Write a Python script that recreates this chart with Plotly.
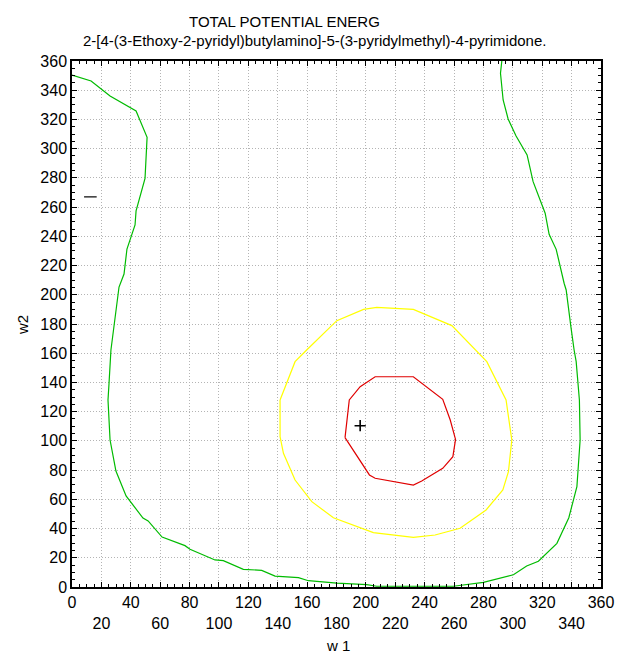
import plotly.graph_objects as go

# ---- data ----
green_w1 = [0, 13, 25.9, 43.6, 51.1, 49.7, 43.6, 42.9, 37.4, 35.4, 32, 29.3, 28.6, 26.5, 25.2, 24.5,
            25.9, 29.9, 36.8, 48.3, 51.8, 61.3, 76.9, 80.3, 97.3, 103, 116.6, 129.1, 138.2, 154.1,
            160.9, 180.2, 200.6, 207.4, 259.6, 280, 300.4, 309.4, 317.4, 330, 338.1, 343.6, 345.8,
            345.3, 343.1, 341.7, 339.5, 336.3, 334.9, 329.5, 324.7, 322, 313.8, 309.7, 302.2, 296.8,
            293.4, 291.6, 292.5]
green_w2 = [350.4, 346.3, 336, 325.8, 307.8, 279.7, 257.4, 247.8, 231.3, 214.2, 205.3, 182.7, 179.3,
            162.2, 139.4, 128, 100.6, 79.4, 62.3, 47.2, 45.2, 34.2, 28.3, 25.8, 18.5, 18, 12.1, 11.4,
            7.5, 6.4, 4.3, 2.7, 1.6, 0.5, 0.5, 3.2, 8.4, 14.4, 17.6, 29.9, 47.4, 68.7, 100.6, 128,
            154.2, 162.2, 178.2, 203.3, 207.9, 231.1, 241.4, 255.8, 277.4, 295.7, 308.7, 320.3,
            333.3, 351.6, 360]

yellow_w1 = [141.6, 151.8, 159.7, 180.2, 198.4, 207.4, 232.3, 258.5, 282.3, 295.4, 299.3, 297, 293.2,
             281.8, 264.1, 247.1, 232.3, 205.1, 177.9, 163.2, 151.8, 143.9, 141.6, 141.6]
yellow_w2 = [128, 154.2, 162.2, 182.3, 190, 191.4, 190, 178.9, 154.2, 128, 100.6, 78.9, 66.4, 52.7,
             40.2, 35.6, 34, 37.2, 47.4, 58.4, 73.2, 91.5, 102.9, 128]

red_w1 = [185.8, 188.7, 196.1, 206.3, 232.3, 252.3, 257.4, 261, 259.2, 252.3, 238, 232.3, 206.3,
          202.4, 185.8]
red_w2 = [102.2, 128, 137.1, 143.9, 143.9, 128.5, 114.3, 101, 89.2, 81.2, 72.5, 69.8, 74.4, 76.7,
          102.2]

plus_w1, plus_w2 = [196.1], [110.4]
dash_w1, dash_w2 = [12.5], [267]

tick_vals = list(range(0, 361, 20))
x_tick_text = [str(v) if (v // 20) % 2 == 0 else "<br>" + str(v) for v in tick_vals]

title_text = "TOTAL POTENTIAL ENERG"
subtitle_text = "2-[4-(3-Ethoxy-2-pyridyl)butylamino]-5-(3-pyridylmethyl)-4-pyrimidone."
x_title = "w 1"
y_title = "w2"

FONT = "Liberation Sans, Arial, sans-serif"

fig = go.Figure()
fig.add_trace(go.Scatter(x=green_w1, y=green_w2, mode="lines",
                         line=dict(color="#00bb00", width=1.2), hoverinfo="skip"))
fig.add_trace(go.Scatter(x=yellow_w1, y=yellow_w2, mode="lines",
                         line=dict(color="#ffff00", width=1.2), hoverinfo="skip"))
fig.add_trace(go.Scatter(x=red_w1, y=red_w2, mode="lines",
                         line=dict(color="#e00000", width=1.2), hoverinfo="skip"))
fig.add_trace(go.Scatter(x=plus_w1, y=plus_w2, mode="markers",
                         marker=dict(symbol="cross-thin", size=8,
                                     line=dict(color="black", width=1.6)), hoverinfo="skip"))
fig.add_trace(go.Scatter(x=dash_w1, y=dash_w2, mode="markers",
                         marker=dict(symbol="line-ew", size=9,
                                     line=dict(color="black", width=1.2)), hoverinfo="skip"))

axis_common = dict(
    range=[0, 360], tickvals=tick_vals, showgrid=True, gridcolor="#b4b4b4", griddash="1px,2px",
    gridwidth=1, zeroline=False, showline=True, linecolor="black", linewidth=1.5, mirror="ticks",
    ticks="inside", ticklen=5, tickcolor="black", tickwidth=1, automargin=False,
    minor=dict(dtick=5, ticks="inside", ticklen=3, tickcolor="black", showgrid=False),
    tickfont=dict(family=FONT, size=16, color="black"),
)

fig.update_layout(
    width=617, height=656,
    margin=dict(l=72, r=16, t=61, b=69),
    paper_bgcolor="white", plot_bgcolor="white",
    showlegend=False,
    font=dict(family=FONT, size=15, color="black"),
    xaxis=dict(axis_common, ticktext=x_tick_text),
    yaxis=dict(axis_common, ticktext=[str(v) for v in tick_vals]),
    annotations=[
        dict(text=title_text, xref="paper", yref="paper", x=(284.5 - 72) / 529, y=1 + (61 - 21) / 526,
             xanchor="center", yanchor="middle", showarrow=False, font=dict(family=FONT, size=15)),
        dict(text=subtitle_text, xref="paper", yref="paper", x=(314 - 72) / 529, y=1 + (61 - 41) / 526,
             xanchor="center", yanchor="middle", showarrow=False, font=dict(family=FONT, size=15)),
        dict(text=x_title, xref="paper", yref="paper", x=(338 - 72) / 529, y=-(645 - 587) / 526,
             xanchor="center", yanchor="middle", showarrow=False, font=dict(family=FONT, size=15)),
        dict(text=y_title, xref="paper", yref="paper", x=(22 - 72) / 529, y=(587 - 325) / 526,
             xanchor="center", yanchor="middle", showarrow=False, textangle=-90,
             font=dict(family=FONT, size=15)),
    ],
)

fig.write_html("out.html", config={"displayModeBar": False},
               post_script="document.body.style.margin='0px';document.body.style.overflow='hidden';")
